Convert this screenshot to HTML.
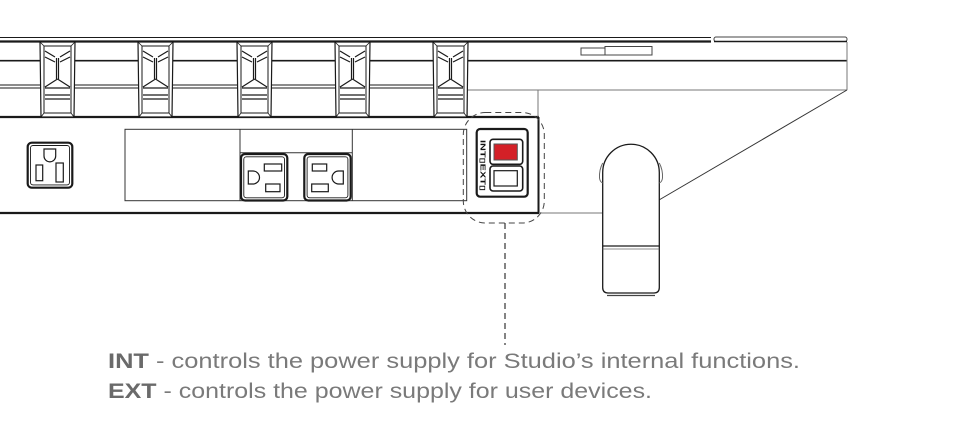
<!DOCTYPE html>
<html><head><meta charset="utf-8"><style>
html,body{margin:0;padding:0;background:#fff;}
svg{display:block;}
</style></head><body>
<svg width="975" height="434" viewBox="0 0 975 434" xmlns="http://www.w3.org/2000/svg">
<g fill="none" stroke="#1a1a1a" stroke-linecap="butt">
  <!-- top rail lines -->
  <line x1="0" y1="37.5" x2="711" y2="37.5" stroke-width="1"/>
  <line x1="0" y1="41.5" x2="711" y2="41.5" stroke-width="2.2"/>
  <rect x="714" y="37" width="133" height="4.5" rx="2" stroke-width="1" stroke="#444"/>
  <line x1="714" y1="41.5" x2="847" y2="41.5" stroke-width="1.4"/>
  <line x1="0" y1="60.7" x2="847" y2="60.7" stroke-width="1.6"/>
  <line x1="0" y1="85" x2="467" y2="85" stroke-width="1"/>
  <line x1="0" y1="88" x2="467" y2="88" stroke-width="1"/>
  <line x1="0" y1="117" x2="539" y2="117" stroke-width="2.2"/>
  <line x1="847" y1="42" x2="847" y2="90" stroke-width="1" stroke="#777"/>
  <line x1="467" y1="90" x2="847" y2="90" stroke-width="1" stroke="#777"/>
  <line x1="467" y1="42" x2="467" y2="117" stroke-width="1.2"/>
  <line x1="538" y1="90" x2="538" y2="117" stroke-width="1" stroke="#777"/>
  <line x1="538.5" y1="117" x2="538.5" y2="213" stroke-width="2"/>
  <line x1="0" y1="213" x2="539" y2="213" stroke-width="2.2"/>
  <line x1="539" y1="213" x2="603" y2="213" stroke-width="1" stroke="#777"/>
  <line x1="847" y1="90" x2="659" y2="200" stroke-width="1" stroke="#333"/>
  <!-- slider -->
  <rect x="581" y="48" width="24" height="7" stroke-width="1" stroke="#444"/>
  <rect x="605" y="46.5" width="47" height="8.5" stroke-width="1" stroke="#444"/>

  <!-- keys -->
  <g id="k1" transform="translate(40,41)" fill="#fff">
    <path d="M0,1 L35,1 L34,76 L1,76 Z" stroke-width="1.2"/>
    <rect x="4" y="5" width="27" height="67" stroke-width="1"/>
    <path d="M0,1 L4,5 M35,1 L31,5 M34,76 L31,72 M1,76 L4,72" stroke-width="0.8"/>
    <path d="M5,10 L15,16 M30,10 L20,16 M5,16 L15,21 M30,16 L20,21 M16.5,17 L16.5,38 M18.5,17 L18.5,38 M17.5,38 L5,46 M17.5,38 L30,46 M5,47 H30 M5,54 H30 M5,58 H30" stroke-width="1.2" fill="none"/>
  </g>
  <g transform="translate(138,41)" fill="#fff">
    <path d="M0,1 L35,1 L34,76 L1,76 Z" stroke-width="1.2"/>
    <rect x="4" y="5" width="27" height="67" stroke-width="1"/>
    <path d="M0,1 L4,5 M35,1 L31,5 M34,76 L31,72 M1,76 L4,72" stroke-width="0.8"/>
    <path d="M5,10 L15,16 M30,10 L20,16 M5,16 L15,21 M30,16 L20,21 M16.5,17 L16.5,38 M18.5,17 L18.5,38 M17.5,38 L5,46 M17.5,38 L30,46 M5,47 H30 M5,54 H30 M5,58 H30" stroke-width="1.2" fill="none"/>
  </g>
  <g transform="translate(237,41)" fill="#fff">
    <path d="M0,1 L35,1 L34,76 L1,76 Z" stroke-width="1.2"/>
    <rect x="4" y="5" width="27" height="67" stroke-width="1"/>
    <path d="M0,1 L4,5 M35,1 L31,5 M34,76 L31,72 M1,76 L4,72" stroke-width="0.8"/>
    <path d="M5,10 L15,16 M30,10 L20,16 M5,16 L15,21 M30,16 L20,21 M16.5,17 L16.5,38 M18.5,17 L18.5,38 M17.5,38 L5,46 M17.5,38 L30,46 M5,47 H30 M5,54 H30 M5,58 H30" stroke-width="1.2" fill="none"/>
  </g>
  <g transform="translate(335,41)" fill="#fff">
    <path d="M0,1 L35,1 L34,76 L1,76 Z" stroke-width="1.2"/>
    <rect x="4" y="5" width="27" height="67" stroke-width="1"/>
    <path d="M0,1 L4,5 M35,1 L31,5 M34,76 L31,72 M1,76 L4,72" stroke-width="0.8"/>
    <path d="M5,10 L15,16 M30,10 L20,16 M5,16 L15,21 M30,16 L20,21 M16.5,17 L16.5,38 M18.5,17 L18.5,38 M17.5,38 L5,46 M17.5,38 L30,46 M5,47 H30 M5,54 H30 M5,58 H30" stroke-width="1.2" fill="none"/>
  </g>
  <g transform="translate(433,41)" fill="#fff">
    <path d="M0,1 L35,1 L34,76 L1,76 Z" stroke-width="1.2"/>
    <rect x="4" y="5" width="27" height="67" stroke-width="1"/>
    <path d="M0,1 L4,5 M35,1 L31,5 M34,76 L31,72 M1,76 L4,72" stroke-width="0.8"/>
    <path d="M5,10 L15,16 M30,10 L20,16 M5,16 L15,21 M30,16 L20,21 M16.5,17 L16.5,38 M18.5,17 L18.5,38 M17.5,38 L5,46 M17.5,38 L30,46 M5,47 H30 M5,54 H30 M5,58 H30" stroke-width="1.2" fill="none"/>
  </g>

  <!-- left outlet -->
  <rect x="27.7" y="142.7" width="44.6" height="45" rx="4" stroke-width="2.2"/>
  <rect x="30.5" y="145.5" width="39" height="39.4" rx="2.5" stroke-width="0.9"/>
  <path d="M44,149 V156 A5.8,5.8 0 0 0 55.7,156 V149 Z" stroke-width="1.2"/>
  <rect x="36" y="165" width="6.7" height="15.7" stroke-width="1.2"/>
  <rect x="56" y="163" width="7.3" height="19" stroke-width="1.2"/>

  <!-- panel -->
  <rect x="125" y="129.3" width="341.7" height="71.4" stroke-width="1" stroke="#333"/>
  <line x1="240" y1="129.3" x2="240" y2="200.7" stroke-width="1" stroke="#333"/>
  <line x1="352.3" y1="129.3" x2="352.3" y2="200.7" stroke-width="1" stroke="#333"/>
  <line x1="240" y1="152.7" x2="352.3" y2="152.7" stroke-width="1" stroke="#333"/>
  <!-- outlet 1 -->
  <rect x="241" y="154" width="46.3" height="46.5" rx="4" stroke-width="2.2" fill="#fff"/>
  <rect x="243.8" y="156.8" width="40.7" height="41" rx="2.5" stroke-width="0.9"/>
  <path d="M248.3,171 H253 A6.5,6.5 0 0 1 253,184 H248.3 Z" stroke-width="1.2"/>
  <rect x="264.3" y="164" width="17.4" height="7" stroke-width="1.2"/>
  <rect x="265.7" y="184" width="14.3" height="7.7" stroke-width="1.2"/>
  <!-- outlet 2 -->
  <rect x="304.3" y="154" width="46.4" height="46.5" rx="4" stroke-width="2.2" fill="#fff"/>
  <rect x="307.1" y="156.8" width="40.8" height="41" rx="2.5" stroke-width="0.9"/>
  <path d="M343.3,171 H338.6 A6.5,6.5 0 0 0 338.6,184 H343.3 Z" stroke-width="1.2"/>
  <rect x="312.3" y="164" width="14.4" height="7" stroke-width="1.2"/>
  <rect x="311.7" y="184" width="16.6" height="7.7" stroke-width="1.2"/>

  <!-- switch -->
  <rect x="476.7" y="129" width="51" height="67.7" rx="3.5" stroke-width="2.2" fill="#fff"/>
  <rect x="490" y="139.3" width="32.7" height="25" rx="3" stroke-width="1.6"/>
  <rect x="494" y="144" width="23.3" height="16" fill="#d42027" stroke="#555" stroke-width="1"/>
  <rect x="490" y="166" width="32.7" height="25" rx="3" stroke-width="1.6"/>
  <rect x="494" y="170.7" width="23.3" height="15.3" stroke-width="1.2"/>

  <!-- dashed callout -->
  <rect x="463.3" y="112.5" width="81" height="110.5" rx="22" stroke="#444" stroke-width="1" stroke-dasharray="6,4"/>
  <line x1="505" y1="223" x2="505" y2="345" stroke="#333" stroke-width="1.2" stroke-dasharray="6,4"/>

  <!-- pen holder cylinder -->
  <path d="M602.7,172.5 A28.3,28.3 0 0 1 659.3,172.5 L659.3,287.5 Q659.3,293 654,293 L608,293 Q602.7,293 602.7,287.5 Z" stroke-width="1.3" fill="#fff"/>
  <path d="M602.7,163 Q599,170 599.5,178 Q600,182 602.7,183" stroke-width="1" stroke="#666"/>
  <path d="M659.3,163 Q663,170 662.5,178 Q662,182 659.3,183" stroke-width="1" stroke="#666"/>
  <line x1="602.7" y1="246" x2="659.3" y2="246" stroke-width="1.3"/>
  <line x1="602.7" y1="249" x2="659.3" y2="249" stroke-width="0.8" stroke="#666"/>
  <line x1="607" y1="295.5" x2="655" y2="295.5" stroke-width="1.2" stroke="#444"/>
</g>

<!-- switch label (rotated) -->
<text x="0" y="0" transform="translate(480.5,140) rotate(90)" font-family="'Liberation Sans', sans-serif" font-size="7.2" font-weight="bold" fill="#111" textLength="51" lengthAdjust="spacingAndGlyphs">INT▯EXT▯</text>

<!-- caption -->
<text x="108" y="368" font-family="'Liberation Sans', sans-serif" font-size="21.5" fill="#7a7a7a" textLength="692" lengthAdjust="spacingAndGlyphs"><tspan font-weight="bold" fill="#6a6a6a">INT</tspan> - controls the power supply for Studio’s internal functions.</text>
<text x="108" y="398" font-family="'Liberation Sans', sans-serif" font-size="21.5" fill="#7a7a7a" textLength="544" lengthAdjust="spacingAndGlyphs"><tspan font-weight="bold" fill="#6a6a6a">EXT</tspan> - controls the power supply for user devices.</text>
</svg>
</body></html>
